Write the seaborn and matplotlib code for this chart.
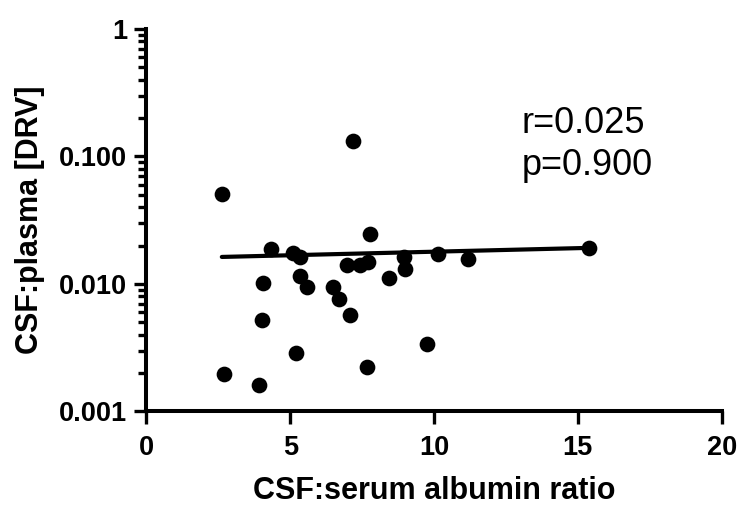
import matplotlib
matplotlib.use('Agg')
import matplotlib.pyplot as plt
import seaborn as sns
import pandas as pd
from matplotlib.ticker import LogLocator, NullFormatter, FixedLocator

# ---- data ----
albumin_ratio = [2.62, 2.70, 3.91, 4.00, 4.04, 4.33, 5.11, 5.34, 5.34, 5.57,
                 5.19, 6.50, 6.71, 7.08, 6.96, 7.43, 7.72, 7.77, 7.19, 7.66,
                 8.45, 8.99, 8.96, 9.75, 10.12, 11.19, 15.40]
csf_plasma = [0.0505, 0.00197, 0.00161, 0.00522, 0.0102, 0.0188, 0.0176, 0.0164, 0.0116, 0.0095,
              0.00289, 0.0094, 0.0076, 0.00571, 0.0140, 0.0140, 0.0150, 0.0247, 0.133, 0.00222,
              0.0111, 0.0130, 0.0164, 0.00339, 0.0171, 0.0157, 0.0190]
fit_x = [2.62, 15.40]
fit_y = [0.0163, 0.0192]
x_ticks = [0, 5, 10, 15, 20]
y_ticks = [0.001, 0.01, 0.1, 1]
y_tick_labels = ['0.001', '0.010', '0.100', '1']
stats_lines = ['r=0.025', 'p=0.900']
stats_y = [0.153, 0.0716]
stats_x = 13.05
x_label = 'CSF:serum albumin ratio'
y_label = 'CSF:plasma [DRV]'

sns.set_style('ticks')
plt.rcParams['font.family'] = ['Liberation Sans', 'DejaVu Sans']
plt.rcParams['text.color'] = 'black'
plt.rcParams['axes.labelcolor'] = 'black'
plt.rcParams['xtick.color'] = 'black'
plt.rcParams['ytick.color'] = 'black'
plt.rcParams['axes.edgecolor'] = 'black'

fig = plt.figure(figsize=(7.42, 5.07), dpi=100)
ax = fig.add_axes([0.1974, 0.1884, 0.7752, 0.7544])

df = pd.DataFrame({'ratio': albumin_ratio, 'csf': csf_plasma})
fit = pd.DataFrame({'ratio': fit_x, 'csf': fit_y})

sns.lineplot(data=fit, x='ratio', y='csf', ax=ax, color='black', linewidth=3.0,
             solid_capstyle='round', zorder=2)
sns.scatterplot(data=df, x='ratio', y='csf', ax=ax, color='black', s=128,
                linewidth=0, zorder=3, clip_on=False)

ax.set_yscale('log')
ax.set_xlim(0, 20)
ax.set_ylim(0.001, 1)
ax.set_xticks(x_ticks)
ax.set_xticklabels([str(t) for t in x_ticks])
ax.yaxis.set_major_locator(FixedLocator(y_ticks))
ax.set_yticklabels(y_tick_labels)
ax.yaxis.set_minor_locator(LogLocator(base=10, subs=range(2, 10), numticks=20))
ax.yaxis.set_minor_formatter(NullFormatter())

for side in ['top', 'right']:
    ax.spines[side].set_visible(False)
for side in ['left', 'bottom']:
    ax.spines[side].set_linewidth(2.9)
    ax.spines[side].set_color('black')

ax.tick_params(axis='both', which='major', length=9, width=2.4, color='black',
               labelcolor='black', labelsize=19.5, pad=5)
ax.tick_params(axis='x', which='major', pad=8)
ax.tick_params(axis='y', which='minor', length=6, width=2.4, color='black')
ax.tick_params(axis='x', which='minor', bottom=False)
for lbl in ax.get_xticklabels() + ax.get_yticklabels():
    lbl.set_fontweight('bold')
    lbl.set_color('black')

ax.set_xlabel(x_label, fontsize=22, fontweight='bold', labelpad=11, color='black')
ax.set_ylabel(y_label, fontsize=22, fontweight='bold', labelpad=10, color='black')

for line, yy in zip(stats_lines, stats_y):
    ax.text(stats_x, yy, line, fontsize=26, ha='left', va='baseline', color='black')

fig.savefig('out.png', dpi=100)
